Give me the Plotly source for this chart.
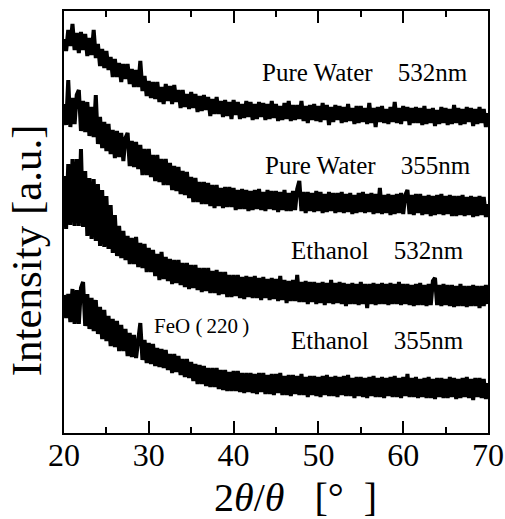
import plotly.graph_objects as go

# 2theta grid (deg), 0.25 deg sampling of the digitised patterns
TWO_THETA_START = 20.0
TWO_THETA_STEP = 0.25
N_POINTS = 201
two_theta = [TWO_THETA_START + TWO_THETA_STEP * i for i in range(N_POINTS)]

# Intensities (a.u., vertical offsets included)
pure_water_532 = [
    394, 382, 403, 387, 409, 383, 400, 380, 401, 383, 399, 377, 395, 378, 403, 375, 389, 367, 384, 365,
    382, 363, 376, 356, 374, 356, 370, 351, 369, 354, 369, 349, 364, 346, 363, 346, 372, 342, 357, 337,
    352, 335, 351, 334, 351, 331, 346, 329, 349, 332, 347, 329, 348, 331, 343, 325, 343, 326, 339, 324,
    341, 325, 339, 321, 337, 322, 338, 323, 336, 317, 334, 319, 336, 319, 332, 316, 333, 317, 331, 314,
    333, 318, 331, 314, 329, 315, 332, 316, 331, 313, 329, 314, 331, 316, 330, 313, 329, 314, 332, 315,
    329, 312, 327, 313, 330, 314, 332, 312, 328, 313, 328, 314, 332, 312, 327, 310, 328, 313, 329, 312,
    327, 311, 330, 313, 328, 308, 326, 311, 328, 313, 327, 310, 326, 311, 329, 312, 325, 309, 327, 310,
    327, 311, 325, 309, 330, 310, 325, 306, 326, 311, 327, 310, 324, 309, 326, 311, 331, 310, 325, 309,
    327, 312, 326, 308, 325, 310, 326, 310, 325, 308, 327, 309, 324, 310, 325, 307, 323, 309, 326, 310,
    325, 308, 324, 309, 328, 310, 325, 308, 324, 309, 326, 311, 325, 307, 324, 309, 326, 310, 324, 306,
    320,
]
pure_water_355 = [
    329, 308, 353, 306, 335, 309, 338, 343, 302, 332, 301, 331, 297, 326, 296, 338, 289, 316, 285, 311,
    282, 309, 279, 303, 275, 302, 276, 300, 272, 295, 300, 267, 292, 266, 291, 264, 288, 258, 284, 258,
    284, 256, 278, 252, 278, 251, 274, 248, 274, 248, 270, 243, 267, 242, 266, 239, 262, 238, 261, 235,
    256, 231, 255, 231, 251, 229, 251, 229, 250, 227, 248, 225, 248, 227, 245, 225, 246, 226, 246, 226,
    245, 223, 243, 224, 244, 224, 243, 222, 242, 223, 243, 224, 244, 223, 241, 222, 243, 224, 242, 223,
    242, 221, 241, 223, 243, 222, 240, 222, 242, 223, 244, 252, 222, 241, 220, 241, 222, 240, 221, 242,
    222, 241, 220, 239, 221, 241, 222, 240, 220, 240, 221, 241, 220, 239, 221, 240, 219, 238, 220, 240,
    221, 241, 220, 239, 221, 240, 219, 239, 220, 245, 219, 238, 220, 239, 218, 238, 219, 239, 220, 240,
    219, 238, 243, 219, 238, 218, 239, 220, 239, 218, 237, 219, 238, 217, 237, 218, 238, 219, 239, 218,
    237, 219, 238, 217, 237, 217, 237, 218, 238, 217, 236, 218, 237, 216, 236, 217, 237, 218, 236, 216,
    229,
]
ethanol_532 = [
    257, 204, 269, 208, 274, 207, 274, 207, 284, 206, 262, 197, 255, 194, 254, 192, 249, 187, 243, 186,
    237, 184, 228, 180, 218, 177, 207, 175, 202, 173, 197, 169, 195, 169, 196, 166, 190, 165, 189, 161,
    185, 161, 183, 157, 179, 153, 181, 154, 176, 152, 174, 149, 173, 150, 173, 148, 170, 146, 170, 144,
    168, 145, 168, 143, 165, 141, 165, 142, 165, 140, 162, 140, 163, 138, 161, 139, 161, 136, 158, 136,
    158, 137, 158, 135, 156, 134, 157, 136, 156, 135, 157, 135, 155, 133, 156, 135, 154, 133, 155, 134,
    154, 132, 157, 133, 153, 130, 152, 132, 153, 132, 158, 131, 151, 131, 152, 129, 151, 131, 151, 129,
    150, 130, 151, 128, 150, 130, 153, 129, 150, 130, 151, 129, 150, 127, 149, 129, 150, 129, 149, 128,
    151, 129, 149, 125, 149, 129, 150, 128, 149, 129, 150, 129, 149, 128, 150, 129, 149, 129, 151, 128,
    149, 129, 149, 128, 148, 127, 149, 128, 150, 128, 148, 127, 149, 128, 152, 155, 128, 148, 127, 149,
    128, 148, 127, 148, 126, 147, 127, 149, 127, 147, 126, 147, 127, 148, 127, 147, 125, 147, 127, 148,
    129,
]
ethanol_355 = [
    138, 115, 139, 111, 144, 109, 143, 109, 145, 151, 107, 139, 104, 135, 102, 133, 99, 126, 94, 123,
    92, 117, 87, 114, 86, 112, 82, 108, 82, 104, 77, 100, 76, 98, 75, 96, 110, 73, 93, 70,
    90, 69, 89, 67, 85, 66, 84, 65, 83, 63, 79, 60, 79, 61, 77, 58, 74, 56, 74, 55,
    71, 52, 69, 49, 68, 49, 67, 47, 65, 46, 65, 46, 65, 44, 63, 43, 63, 42, 61, 42,
    62, 42, 62, 41, 60, 40, 60, 41, 60, 40, 59, 39, 60, 41, 60, 39, 58, 39, 59, 38,
    59, 40, 60, 38, 57, 38, 58, 37, 58, 39, 57, 38, 59, 38, 56, 36, 57, 38, 57, 37,
    56, 36, 57, 38, 58, 37, 56, 37, 57, 36, 56, 38, 57, 37, 58, 37, 55, 35, 56, 37,
    56, 36, 55, 35, 56, 37, 57, 36, 55, 36, 56, 35, 55, 37, 56, 36, 57, 36, 55, 35,
    56, 37, 59, 36, 55, 36, 56, 35, 54, 36, 55, 35, 56, 35, 54, 34, 55, 36, 55, 35,
    54, 35, 56, 36, 55, 34, 54, 35, 55, 36, 56, 35, 54, 33, 55, 36, 55, 35, 54, 34,
    50,
]

series_names = ["Pure Water 532nm", "Pure Water 355nm", "Ethanol 532nm", "Ethanol 355nm"]
series_values = [pure_water_532, pure_water_355, ethanol_532, ethanol_355]

# Text labels: (text, 2theta position, intensity position)
NB = "\u00a0"
THIN = "\u2009"
label_texts = [
    "Pure Water" + NB * 4 + "532nm",
    "Pure Water" + NB * 4 + "355nm",
    "Ethanol" + NB * 4 + "532nm",
    "Ethanol" + NB * 4 + "355nm",
]
label_x = [55.5, 55.85, 57.0, 57.0]
label_y = [361, 268, 183, 93]

peak_label = "FeO" + NB + "(" + THIN + "220" + THIN + ")"
peak_label_x = 30.35
peak_label_y = 107

x_ticks = [20, 30, 40, 50, 60, 70]
x_minor_dtick = 5
x_range = [20, 70]
y_range = [0, 422]

SERIF = "Liberation Serif, Times New Roman, serif"

fig = go.Figure()
for name, vals in zip(series_names, series_values):
    assert len(vals) == N_POINTS
    fig.add_trace(go.Scatter(
        x=two_theta, y=vals, mode="lines", name=name,
        line=dict(color="black", width=4),
        showlegend=False, hoverinfo="skip",
    ))

annotations = []
for t, lx, ly in zip(label_texts, label_x, label_y):
    annotations.append(dict(
        x=lx, y=ly, xref="x", yref="y", text=t, showarrow=False,
        xanchor="center", yanchor="middle",
        font=dict(family=SERIF, size=25, color="black"),
    ))
annotations.append(dict(
    x=peak_label_x, y=peak_label_y, xref="x", yref="y", text=peak_label,
    showarrow=False, xanchor="left", yanchor="middle",
    font=dict(family=SERIF, size=21, color="black"),
))
# axis titles
annotations.append(dict(
    x=-0.089, y=0.4336, xref="paper", yref="paper", text="Intensity [a.u.]",
    textangle=-90, showarrow=False, xanchor="center", yanchor="middle",
    font=dict(family=SERIF, size=43, color="black"),
))
annotations.append(dict(
    x=0.349, y=-0.152, xref="paper", yref="paper",
    text="2<i>θ</i>/<i>θ</i>" + NB * 3 + "[°" + NB * 2 + "]",
    showarrow=False, xanchor="left", yanchor="middle",
    font=dict(family=SERIF, size=40, color="black"),
))

fig.update_layout(
    width=505, height=519,
    margin=dict(l=64, r=17, t=11, b=86),
    paper_bgcolor="white", plot_bgcolor="white",
    annotations=annotations,
    xaxis=dict(
        range=x_range, tickvals=x_ticks, ticktext=[str(v) for v in x_ticks],
        ticks="inside", ticklen=12, tickwidth=1.6, tickcolor="black",
        minor=dict(dtick=x_minor_dtick, ticks="inside", ticklen=6,
                   tickwidth=1.6, tickcolor="black", showgrid=False),
        showline=True, linewidth=2, linecolor="black", mirror="ticks",
        showgrid=False, zeroline=False, automargin=False,
        ticklabelstandoff=-7,
        tickfont=dict(family=SERIF, size=32, color="black"),
    ),
    yaxis=dict(
        range=y_range, showticklabels=False, ticks="",
        showline=True, linewidth=2, linecolor="black", mirror=True,
        showgrid=False, zeroline=False, automargin=False,
    ),
)

fig.write_html(
    "out.html",
    config={"displayModeBar": False},
    post_script="document.body.style.margin='0';document.body.style.padding='0';",
)
